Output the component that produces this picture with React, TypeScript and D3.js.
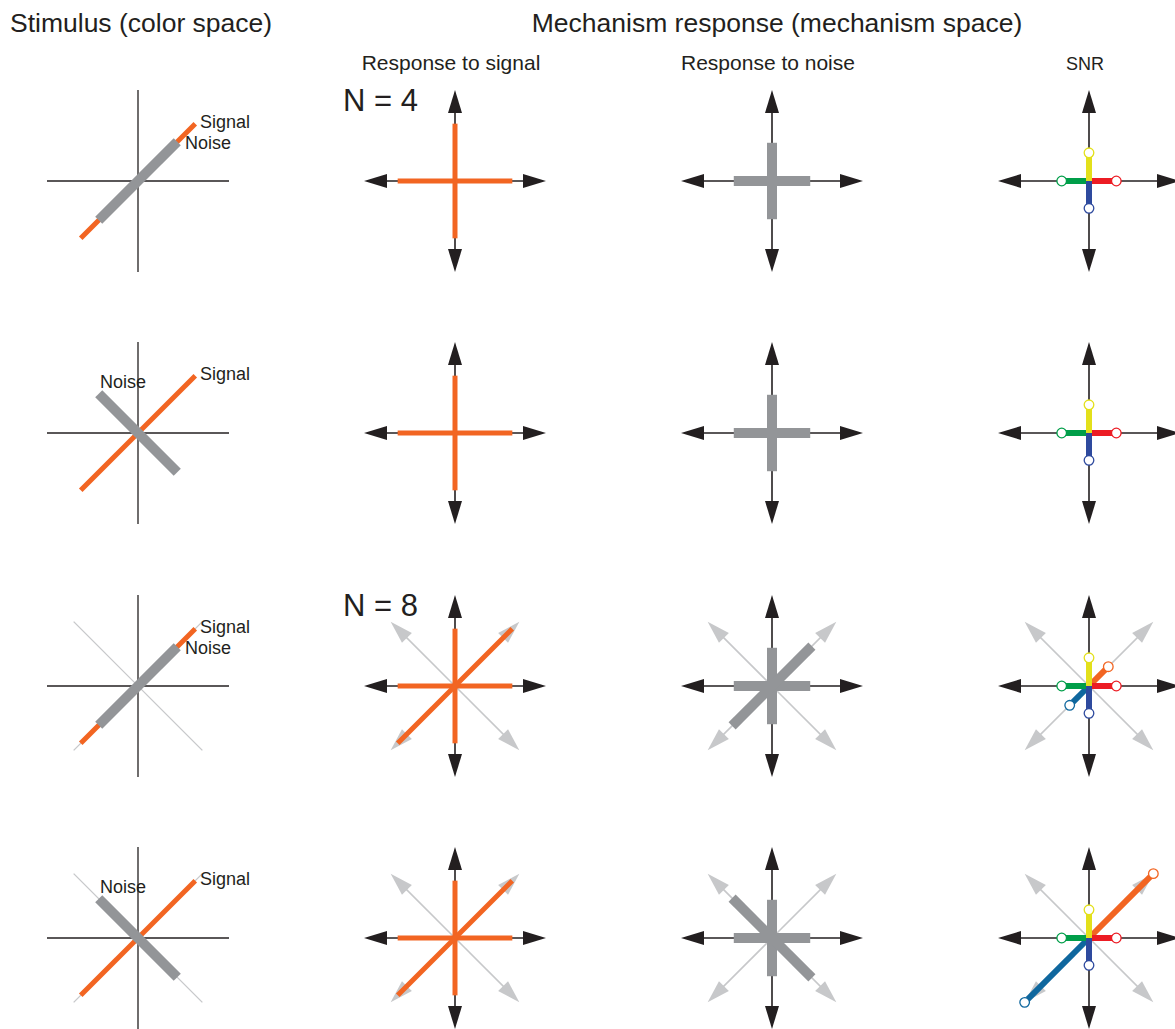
import React from "react";
import * as d3 from "d3";

// ---------- data ----------
const headerTitles = ["Stimulus (color space)", "Mechanism response (mechanism space)"];
const columnTitles = ["Response to signal", "Response to noise", "SNR"];
const rowTags = ["N = 4", "", "N = 8", ""];
const rowMechanismCount = [4, 4, 8, 8];

// stimulus (color space): direction in degrees and half-length (axis = 1)
const signalAngle = [45, 45, 45, 45];
const noiseAngle = [45, 135, 45, 135];
const signalAmplitude = [0.89, 0.89, 0.89, 0.89];
const noiseAmplitude = [0.61, 0.61, 0.61, 0.61];

// mechanism axes (degrees)
const mechanismAngles = [0, 90, 45, 135];
// response of each mechanism axis (0°, 90°, 45°, 135°) per row
const signalResponse = [
  [0.63, 0.63, 0, 0],
  [0.63, 0.63, 0, 0],
  [0.63, 0.63, 0.89, 0],
  [0.63, 0.63, 0.89, 0],
];
const noiseResponse = [
  [0.42, 0.42, 0, 0],
  [0.42, 0.42, 0, 0],
  [0.42, 0.42, 0.62, 0],
  [0.42, 0.42, 0, 0.62],
];

// SNR per mechanism pole
const snrPoles = [0, 90, 180, 270, 45, 225];
const snrColors = ["#ec1c24", "#e3e01b", "#009e49", "#2e4a9e", "#f26522", "#0f679e"];
const snrValues = [
  [0.3, 0.31, 0.3, 0.3, 0, 0],
  [0.3, 0.31, 0.3, 0.3, 0, 0],
  [0.3, 0.31, 0.3, 0.3, 0.3, 0.3],
  [0.3, 0.31, 0.3, 0.3, 1.0, 1.0],
];

// ---------- layout ----------
const W = 1175;
const H = 1029;
const colX = [138, 455, 772, 1089];
const rowY = [181, 433, 686, 938];
const r = d3.scaleLinear().domain([0, 1]).range([0, 91]);

const ORANGE = "#f26522";
const GREY = "#939598";
const LIGHT = "#c7c8ca";
const BLACK = "#231f20";
const FONT = "'Liberation Sans', Arial, Helvetica, sans-serif";

const dir = (deg: number) => {
  const a = (deg * Math.PI) / 180;
  return [Math.cos(a), -Math.sin(a)];
};

function Arrow({ cx, cy, angle, color }: { cx: number; cy: number; angle: number; color: string }) {
  const [dx, dy] = dir(angle);
  const len = r(1);
  const headL = 23;
  const headW = 7;
  const tx = cx + dx * len;
  const ty = cy + dy * len;
  const bx = tx - dx * headL;
  const by = ty - dy * headL;
  const px = -dy;
  const py = dx;
  const path = d3.path();
  path.moveTo(tx, ty);
  path.lineTo(bx + px * headW, by + py * headW);
  path.lineTo(bx - px * headW, by - py * headW);
  path.closePath();
  return (
    <g>
      <line x1={cx} y1={cy} x2={bx + dx * 4} y2={by + dy * 4} stroke={color} strokeWidth={1.6} />
      <path d={path.toString()} fill={color} />
    </g>
  );
}

function MechAxes({ cx, cy, n }: { cx: number; cy: number; n: number }) {
  const diag = n === 8 ? [45, 135, 225, 315] : [];
  return (
    <g>
      {diag.map((a) => (
        <Arrow key={"d" + a} cx={cx} cy={cy} angle={a} color={LIGHT} />
      ))}
      {[0, 90, 180, 270].map((a) => (
        <Arrow key={"c" + a} cx={cx} cy={cy} angle={a} color={BLACK} />
      ))}
    </g>
  );
}

function Bar({ cx, cy, angle, half, color, width }: any) {
  const [dx, dy] = dir(angle);
  const L = r(half);
  return (
    <line
      x1={cx - dx * L}
      y1={cy - dy * L}
      x2={cx + dx * L}
      y2={cy + dy * L}
      stroke={color}
      strokeWidth={width}
    />
  );
}

function StimulusPanel({ i }: { i: number }) {
  const cx = colX[0];
  const cy = rowY[i];
  const L = r(1);
  const parallel = noiseAngle[i] === signalAngle[i];
  return (
    <g>
      {rowMechanismCount[i] === 8 && (
        <g>
          <Bar cx={cx} cy={cy} angle={45} half={1} color={LIGHT} width={1.3} />
          <Bar cx={cx} cy={cy} angle={135} half={1} color={LIGHT} width={1.3} />
        </g>
      )}
      <line x1={cx - L} y1={cy} x2={cx + L} y2={cy} stroke={BLACK} strokeWidth={1.3} />
      <line x1={cx} y1={cy - L} x2={cx} y2={cy + L} stroke={BLACK} strokeWidth={1.3} />
      <Bar cx={cx} cy={cy} angle={signalAngle[i]} half={signalAmplitude[i]} color={ORANGE} width={5} />
      <Bar cx={cx} cy={cy} angle={noiseAngle[i]} half={noiseAmplitude[i]} color={GREY} width={10} />
      <text x={cx + 62} y={cy - 53} fontSize={18} fontFamily={FONT} fill={BLACK}>
        Signal
      </text>
      <text
        x={parallel ? cx + 47 : cx - 38}
        y={parallel ? cy - 32 : cy - 45}
        fontSize={18}
        fontFamily={FONT}
        fill={BLACK}
      >
        Noise
      </text>
    </g>
  );
}

function ResponsePanel({ i, col, values, color, width }: any) {
  const cx = colX[col];
  const cy = rowY[i];
  return (
    <g>
      <MechAxes cx={cx} cy={cy} n={rowMechanismCount[i]} />
      {mechanismAngles.map((a, k) =>
        values[i][k] > 0 ? (
          <Bar key={k} cx={cx} cy={cy} angle={a} half={values[i][k]} color={color} width={width} />
        ) : null
      )}
    </g>
  );
}

function SNRPanel({ i }: { i: number }) {
  const cx = colX[3];
  const cy = rowY[i];
  const order = [4, 5, 2, 0, 1, 3];
  return (
    <g>
      <MechAxes cx={cx} cy={cy} n={rowMechanismCount[i]} />
      {order.map((k) => {
        const v = snrValues[i][k];
        if (!v) return null;
        const [dx, dy] = dir(snrPoles[k]);
        return (
          <line
            key={"l" + k}
            x1={cx}
            y1={cy}
            x2={cx + dx * r(v)}
            y2={cy + dy * r(v)}
            stroke={snrColors[k]}
            strokeWidth={6}
          />
        );
      })}
      {order.map((k) => {
        const v = snrValues[i][k];
        if (!v) return null;
        const [dx, dy] = dir(snrPoles[k]);
        return (
          <circle
            key={"c" + k}
            cx={cx + dx * r(v)}
            cy={cy + dy * r(v)}
            r={4.8}
            fill="#ffffff"
            stroke={snrColors[k]}
            strokeWidth={1.3}
          />
        );
      })}
    </g>
  );
}

export default function App() {
  return (
    <svg
      width={W}
      height={H}
      viewBox={`0 0 ${W} ${H}`}
      style={{ position: "absolute", left: 0, top: 0, background: "#ffffff" }}
    >
      <rect width={W} height={H} fill="#ffffff" />
      <text x={10} y={32} fontSize={26.5} fontFamily={FONT} fill={BLACK}>
        {headerTitles[0]}
      </text>
      <text x={777} y={32} fontSize={26.5} fontFamily={FONT} fill={BLACK} textAnchor="middle">
        {headerTitles[1]}
      </text>
      {columnTitles.map((t, k) => (
        <text
          key={t}
          x={colX[k + 1] - 4}
          y={70}
          fontSize={k === 2 ? 18 : 21}
          fontFamily={FONT}
          fill={BLACK}
          textAnchor="middle"
        >
          {t}
        </text>
      ))}
      {rowY.map((_, i) => (
        <g key={i}>
          <StimulusPanel i={i} />
          <ResponsePanel i={i} col={1} values={signalResponse} color={ORANGE} width={5} />
          <ResponsePanel i={i} col={2} values={noiseResponse} color={GREY} width={10} />
          <SNRPanel i={i} />
          {rowTags[i] && (
            <text x={343} y={rowY[i] - 70} fontSize={31} fontFamily={FONT} fill={BLACK}>
              {rowTags[i]}
            </text>
          )}
        </g>
      ))}
    </svg>
  );
}
